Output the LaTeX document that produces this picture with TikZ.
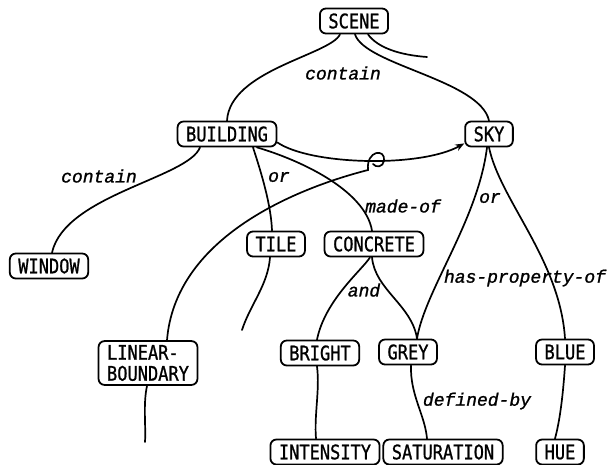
\documentclass[tikz,border=0pt]{standalone}
\usepackage{fontspec}
\newfontfamily\boxfont[FakeStretch=0.85,FakeBold=1]{DejaVu Sans Mono}
\newfontfamily\labfont[FakeBold=1.2]{Liberation Mono}
\usetikzlibrary{arrows.meta}
\begin{document}
\begin{tikzpicture}[x=1pt,y=-1pt,
  box/.style={draw, line width=1.8pt, rounded corners=6pt, inner xsep=8.5pt, inner ysep=3pt,
    minimum height=25pt, font=\boxfont\fontsize{20}{20}\selectfont},
  lab/.style={font=\labfont\itshape\fontsize{18}{20}\selectfont, inner sep=0pt},
  conn/.style={line width=1.7pt, line cap=round}]
\useasboundingbox (0,0) rectangle (609,464);

% nodes
\node[box] (scene) at (354,21) {SCENE};
\node[box] (building) at (227,134) {BUILDING};
\node[box] (sky) at (489,134) {SKY};
\node[box] (window) at (49,266) {WINDOW};
\node[box] (tile) at (276,244) {TILE};
\node[box] (concrete) at (374,244) {CONCRETE};
\node[box, align=left, inner ysep=4pt] (linear) at (148,363) {LINEAR-\\[1pt]BOUNDARY};
\node[box] (bright) at (320,353) {BRIGHT};
\node[box] (grey) at (408,352) {GREY};
\node[box] (blue) at (565,352) {BLUE};
\node[box] (intensity) at (325,452) {INTENSITY};
\node[box] (saturation) at (443,452) {SATURATION};
\node[box] (hue) at (560,452) {HUE};

% free ends
\coordinate (scenestub) at (427,57);
\coordinate (hook) at (368,170);
\coordinate (linstub) at (145,442);
\coordinate (tilestub) at (242,330);

% connectors
\draw[conn] ([xshift=-14pt]scene.south) .. controls (330,55) and (230,70) .. (building.north);
\draw[conn] ([xshift=1pt]scene.south) .. controls (365,65) and (480,80) .. (sky.north);
\draw[conn] ([xshift=14pt]scene.south) .. controls (378,48) and (400,55) .. (scenestub);

\draw[conn] ([xshift=-27pt]building.south) .. controls (188,178) and (65,195) .. ([xshift=3pt]window.north);
\draw[conn] ([xshift=26pt]building.south) .. controls (262,175) and (271,205) .. ([xshift=-4pt]tile.north);
\draw[conn] ([xshift=30pt]building.south) .. controls (300,160) and (365,190) .. ([xshift=-2pt]concrete.north);
\draw[conn, -{Stealth[length=9pt,width=7pt]}] ([yshift=5pt]building.south east) .. controls (310,165) and (420,168) .. ([yshift=4pt]sky.south west);

\draw[conn] ([xshift=19pt]linear.north) .. controls (175,240) and (290,190) .. (hook)
  .. controls (366,150) and (386,148) .. (384,161) .. controls (383,167) and (376,168) .. (373,164);
\draw[conn] ([xshift=-1pt]linear.south) .. controls (143,405) and (146,425) .. (linstub);
\draw[conn] ([xshift=-6pt]tile.south) .. controls (268,285) and (250,305) .. (tilestub);

\draw[conn] ([xshift=-4pt]concrete.south) .. controls (362,270) and (325,300) .. ([xshift=-3pt]bright.north);
\draw[conn] ([xshift=-2pt]concrete.south) .. controls (375,290) and (412,305) .. ([xshift=9pt]grey.north);
\draw[conn] ([xshift=-2pt]sky.south) .. controls (478,220) and (425,290) .. ([xshift=9pt]grey.north);
\draw[conn] (sky.south) .. controls (500,200) and (560,260) .. (blue.north);

\draw[conn] ([xshift=-3pt]bright.south) .. controls (320,390) and (314,415) .. ([xshift=-9pt]intensity.north);
\draw[conn] ([xshift=3pt]grey.south) .. controls (410,395) and (425,415) .. ([xshift=-16pt]saturation.north);
\draw[conn] (blue.south) .. controls (563,395) and (560,420) .. ([xshift=-5pt]hue.north);

% labels
\node[lab] (l1) at (343,73) {contain};
\node[lab] (l2) at (99,176) {contain};
\node[lab] (l3) at (279,177) {or};
\node[lab] (l4) at (403,206) {made-of};
\node[lab] (l5) at (364,290) {and};
\node[lab] (l6) at (490,198) {or};
\node[lab] (l7) at (525,278) {has-property-of};
\node[lab] (l8) at (477,401) {defined-by};
\end{tikzpicture}
\end{document}
